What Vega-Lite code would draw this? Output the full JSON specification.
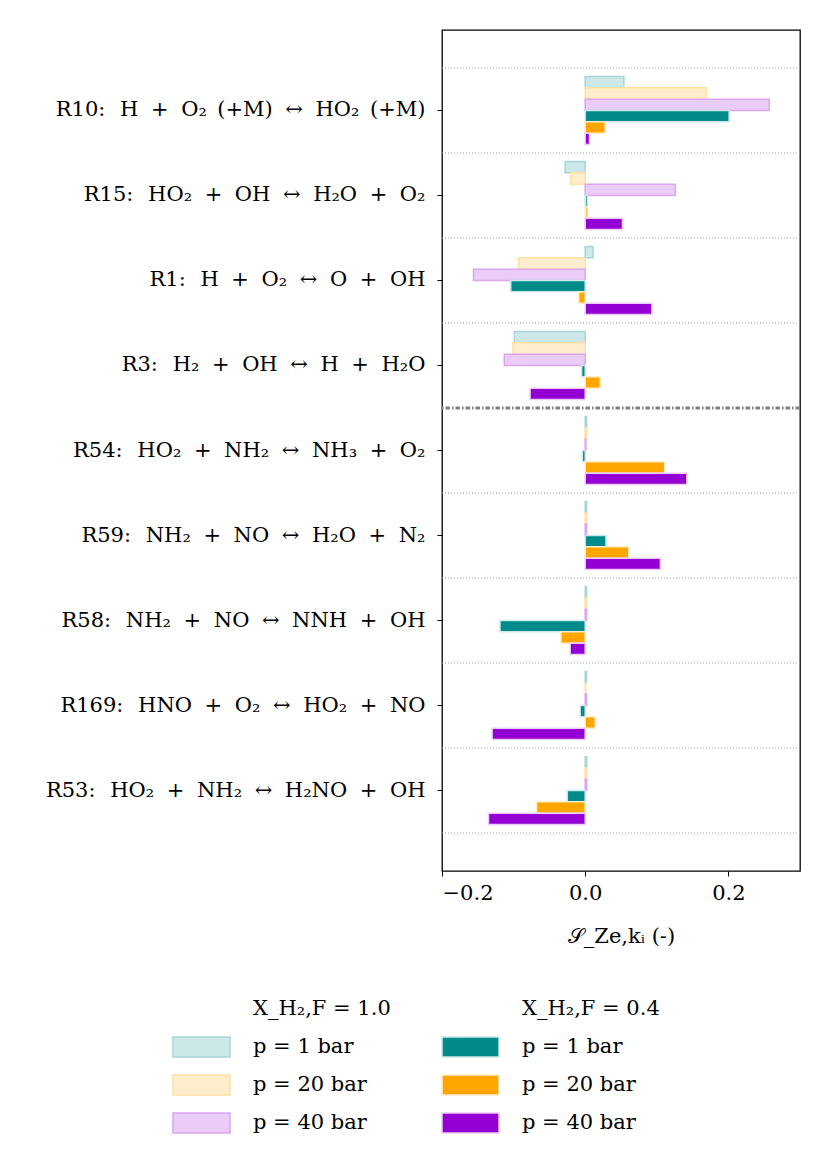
{
  "$schema": "https://vega.github.io/schema/vega-lite/v6.json",
  "autosize": {"type": "none"},
  "padding": {"left": 442, "top": 30, "right": 30, "bottom": 292},
  "width": 358,
  "height": 841,
  "background": "white",
  "config": {
    "view": {"stroke": "black", "strokeWidth": 1.3},
    "axis": {
      "domainColor": "black",
      "tickColor": "black",
      "labelColor": "black",
      "titleColor": "black",
      "grid": false
    }
  },
  "data": {
    "values": [
      {"reaction": "R10: H + O₂ (+M) ↔ HO₂ (+M)", "series": "A1", "value": 0.054},
      {"reaction": "R10: H + O₂ (+M) ↔ HO₂ (+M)", "series": "A20", "value": 0.169},
      {"reaction": "R10: H + O₂ (+M) ↔ HO₂ (+M)", "series": "A40", "value": 0.257},
      {"reaction": "R10: H + O₂ (+M) ↔ HO₂ (+M)", "series": "B1", "value": 0.201},
      {"reaction": "R10: H + O₂ (+M) ↔ HO₂ (+M)", "series": "B20", "value": 0.028},
      {"reaction": "R10: H + O₂ (+M) ↔ HO₂ (+M)", "series": "B40", "value": 0.006},

      {"reaction": "R15: HO₂ + OH ↔ H₂O + O₂", "series": "A1", "value": -0.028},
      {"reaction": "R15: HO₂ + OH ↔ H₂O + O₂", "series": "A20", "value": -0.020},
      {"reaction": "R15: HO₂ + OH ↔ H₂O + O₂", "series": "A40", "value": 0.126},
      {"reaction": "R15: HO₂ + OH ↔ H₂O + O₂", "series": "B1", "value": 0.003},
      {"reaction": "R15: HO₂ + OH ↔ H₂O + O₂", "series": "B20", "value": 0.003},
      {"reaction": "R15: HO₂ + OH ↔ H₂O + O₂", "series": "B40", "value": 0.052},

      {"reaction": "R1: H + O₂ ↔ O + OH", "series": "A1", "value": 0.011},
      {"reaction": "R1: H + O₂ ↔ O + OH", "series": "A20", "value": -0.093},
      {"reaction": "R1: H + O₂ ↔ O + OH", "series": "A40", "value": -0.156},
      {"reaction": "R1: H + O₂ ↔ O + OH", "series": "B1", "value": -0.104},
      {"reaction": "R1: H + O₂ ↔ O + OH", "series": "B20", "value": -0.009},
      {"reaction": "R1: H + O₂ ↔ O + OH", "series": "B40", "value": 0.093},

      {"reaction": "R3: H₂ + OH ↔ H + H₂O", "series": "A1", "value": -0.099},
      {"reaction": "R3: H₂ + OH ↔ H + H₂O", "series": "A20", "value": -0.101},
      {"reaction": "R3: H₂ + OH ↔ H + H₂O", "series": "A40", "value": -0.113},
      {"reaction": "R3: H₂ + OH ↔ H + H₂O", "series": "B1", "value": -0.005},
      {"reaction": "R3: H₂ + OH ↔ H + H₂O", "series": "B20", "value": 0.021},
      {"reaction": "R3: H₂ + OH ↔ H + H₂O", "series": "B40", "value": -0.077},

      {"reaction": "R54: HO₂ + NH₂ ↔ NH₃ + O₂", "series": "A1", "value": 0.002},
      {"reaction": "R54: HO₂ + NH₂ ↔ NH₃ + O₂", "series": "A20", "value": 0.002},
      {"reaction": "R54: HO₂ + NH₂ ↔ NH₃ + O₂", "series": "A40", "value": 0.001},
      {"reaction": "R54: HO₂ + NH₂ ↔ NH₃ + O₂", "series": "B1", "value": -0.004},
      {"reaction": "R54: HO₂ + NH₂ ↔ NH₃ + O₂", "series": "B20", "value": 0.111},
      {"reaction": "R54: HO₂ + NH₂ ↔ NH₃ + O₂", "series": "B40", "value": 0.142},

      {"reaction": "R59: NH₂ + NO ↔ H₂O + N₂", "series": "A1", "value": 0.002},
      {"reaction": "R59: NH₂ + NO ↔ H₂O + N₂", "series": "A20", "value": 0.002},
      {"reaction": "R59: NH₂ + NO ↔ H₂O + N₂", "series": "A40", "value": 0.002},
      {"reaction": "R59: NH₂ + NO ↔ H₂O + N₂", "series": "B1", "value": 0.029},
      {"reaction": "R59: NH₂ + NO ↔ H₂O + N₂", "series": "B20", "value": 0.061},
      {"reaction": "R59: NH₂ + NO ↔ H₂O + N₂", "series": "B40", "value": 0.105},

      {"reaction": "R58: NH₂ + NO ↔ NNH + OH", "series": "A1", "value": 0.002},
      {"reaction": "R58: NH₂ + NO ↔ NNH + OH", "series": "A20", "value": 0.002},
      {"reaction": "R58: NH₂ + NO ↔ NNH + OH", "series": "A40", "value": 0.002},
      {"reaction": "R58: NH₂ + NO ↔ NNH + OH", "series": "B1", "value": -0.119},
      {"reaction": "R58: NH₂ + NO ↔ NNH + OH", "series": "B20", "value": -0.034},
      {"reaction": "R58: NH₂ + NO ↔ NNH + OH", "series": "B40", "value": -0.021},

      {"reaction": "R169: HNO + O₂ ↔ HO₂ + NO", "series": "A1", "value": 0.002},
      {"reaction": "R169: HNO + O₂ ↔ HO₂ + NO", "series": "A20", "value": 0.001},
      {"reaction": "R169: HNO + O₂ ↔ HO₂ + NO", "series": "A40", "value": 0.002},
      {"reaction": "R169: HNO + O₂ ↔ HO₂ + NO", "series": "B1", "value": -0.007},
      {"reaction": "R169: HNO + O₂ ↔ HO₂ + NO", "series": "B20", "value": 0.014},
      {"reaction": "R169: HNO + O₂ ↔ HO₂ + NO", "series": "B40", "value": -0.130},

      {"reaction": "R53: HO₂ + NH₂ ↔ H₂NO + OH", "series": "A1", "value": 0.002},
      {"reaction": "R53: HO₂ + NH₂ ↔ H₂NO + OH", "series": "A20", "value": 0.002},
      {"reaction": "R53: HO₂ + NH₂ ↔ H₂NO + OH", "series": "A40", "value": 0.002},
      {"reaction": "R53: HO₂ + NH₂ ↔ H₂NO + OH", "series": "B1", "value": -0.025},
      {"reaction": "R53: HO₂ + NH₂ ↔ H₂NO + OH", "series": "B20", "value": -0.068},
      {"reaction": "R53: HO₂ + NH₂ ↔ H₂NO + OH", "series": "B40", "value": -0.135}
    ]
  },
  "layer": [
    {
      "transform": [
        {"aggregate": [{"op": "count", "as": "n"}], "groupby": ["reaction"]},
        {"filter": "indexof(datum.reaction, 'R54:') != 0"}
      ],
      "mark": {"type": "rule", "color": "#9a9a9a", "strokeWidth": 1, "strokeDash": [1, 2]},
      "encoding": {
        "y": {"field": "reaction", "type": "nominal", "bandPosition": 0, "sort": null}
      }
    },
    {
      "transform": [
        {"aggregate": [{"op": "count", "as": "n"}], "groupby": ["reaction"]},
        {"filter": "indexof(datum.reaction, 'R53:') == 0"}
      ],
      "mark": {"type": "rule", "color": "#9a9a9a", "strokeWidth": 1, "strokeDash": [1, 2]},
      "encoding": {
        "y": {"field": "reaction", "type": "nominal", "bandPosition": 1, "sort": null}
      }
    },
    {
      "transform": [
        {"aggregate": [{"op": "count", "as": "n"}], "groupby": ["reaction"]},
        {"filter": "indexof(datum.reaction, 'R54:') == 0"}
      ],
      "mark": {"type": "rule", "color": "#808080", "strokeWidth": 3, "strokeDash": [4.5, 2, 1.5, 2]},
      "encoding": {
        "y": {"field": "reaction", "type": "nominal", "bandPosition": 0, "sort": null}
      }
    },
    {
      "mark": {"type": "bar", "strokeWidth": 1.5, "orient": "horizontal"},
      "encoding": {
        "y": {
          "field": "reaction",
          "type": "nominal",
          "sort": null,
          "scale": {
            "domain": [
              "R10: H + O₂ (+M) ↔ HO₂ (+M)",
              "R15: HO₂ + OH ↔ H₂O + O₂",
              "R1: H + O₂ ↔ O + OH",
              "R3: H₂ + OH ↔ H + H₂O",
              "R54: HO₂ + NH₂ ↔ NH₃ + O₂",
              "R59: NH₂ + NO ↔ H₂O + N₂",
              "R58: NH₂ + NO ↔ NNH + OH",
              "R169: HNO + O₂ ↔ HO₂ + NO",
              "R53: HO₂ + NH₂ ↔ H₂NO + OH"
            ],
            "paddingInner": 0,
            "paddingOuter": 0.447
          },
          "axis": {
            "title": null,
            "labelFont": "DejaVu Serif",
            "labelFontSize": 21,
            "labelPadding": 12,
            "labelLimit": 0,
            "labelExpr": "replace(replace(replace(replace(datum.label, / \\+ /g, '\u2002\u200a+\u2002\u200a'), / ↔ /g, '\u2002\u200a↔\u2002\u200a'), ': ', ':\u2002\u2009'), / \\(/g, '\u2002(')",
            "tickSize": 5,
            "domain": false
          }
        },
        "yOffset": {
          "field": "series",
          "type": "nominal",
          "scale": {"domain": ["A1", "A20", "A40", "B1", "B20", "B40"], "paddingInner": 0, "paddingOuter": 0.75}
        },
        "x": {
          "field": "value",
          "type": "quantitative",
          "scale": {"domain": [-0.2, 0.3], "nice": false},
          "axis": {
            "values": [-0.2, 0, 0.2],
            "format": ".1f",
            "labelExpr": "replace(datum.label, '-', '−')",
            "labelFont": "DejaVu Serif",
            "labelFontSize": 21,
            "labelPadding": 6,
            "tickSize": 5,
            "domain": false,
            "title": "𝒮_Ze,kᵢ (-)",
            "titleFont": "DejaVu Serif",
            "titleFontSize": 21,
            "titleFontWeight": "normal",
            "titlePadding": 22
          }
        },
        "color": {
          "field": "series",
          "type": "nominal",
          "scale": {
            "domain": ["H1", "A1", "A20", "A40", "H2", "B1", "B20", "B40"],
            "range": ["transparent", "#cce8e8", "#ffedcc", "#eaccf6", "transparent", "#008b8b", "#ffa500", "#9400d3"]
          },
          "legend": {
            "orient": "none",
            "legendX": -270,
            "legendY": 964,
            "columns": 2,
            "columnPadding": 50,
            "rowPadding": 8,
            "clipHeight": 30,
            "padding": 0,
            "title": null,
            "symbolType": "M-1,-0.35H1V0.35H-1Z",
            "symbolSize": 3249,
            "symbolStrokeWidth": 1.5,
            "labelFont": "DejaVu Serif",
            "labelFontSize": 21,
            "labelColor": "black",
            "labelOffset": 22,
            "labelExpr": "datum.label == 'H1' ? 'X_H₂,F = 1.0' : datum.label == 'H2' ? 'X_H₂,F = 0.4' : 'p = ' + slice(datum.label, 1) + ' bar'"
          }
        },
        "stroke": {
          "field": "series",
          "type": "nominal",
          "scale": {
            "domain": ["H1", "A1", "A20", "A40", "H2", "B1", "B20", "B40"],
            "range": ["transparent", "#a6d6d6", "#ffdfa6", "#dba6f0", "transparent", "#cce8e8", "#ffedcc", "#eaccf6"]
          },
          "legend": {
            "orient": "none",
            "legendX": -270,
            "legendY": 964,
            "columns": 2,
            "columnPadding": 50,
            "rowPadding": 8,
            "clipHeight": 30,
            "padding": 0,
            "title": null,
            "symbolType": "M-1,-0.35H1V0.35H-1Z",
            "symbolSize": 3249,
            "symbolStrokeWidth": 1.5,
            "labelFont": "DejaVu Serif",
            "labelFontSize": 21,
            "labelColor": "black",
            "labelOffset": 22,
            "labelExpr": "datum.label == 'H1' ? 'X_H₂,F = 1.0' : datum.label == 'H2' ? 'X_H₂,F = 0.4' : 'p = ' + slice(datum.label, 1) + ' bar'"
          }
        }
      }
    }
  ]
}
